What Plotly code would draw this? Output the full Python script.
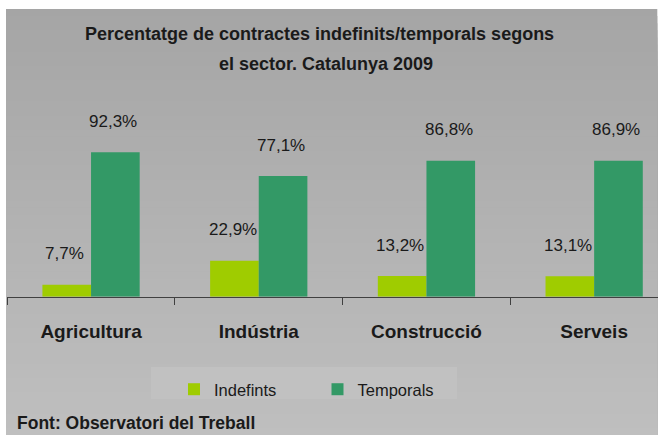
import plotly.graph_objects as go

W, H = 658, 435

categories = ["Agricultura", "Indústria", "Construcció", "Serveis"]
indefinits = [7.7, 22.9, 13.2, 13.1]
temporals = [92.3, 77.1, 86.8, 86.9]
series_names = ["Indefints", "Temporals"]
colors = ["#9fcc00", "#339966"]
title_lines = ["Percentatge de contractes indefinits/temporals segons", "el sector. Catalunya 2009"]
source_text = "Font: Observatori del Treball"

FONT = "Liberation Sans Narrow, Arial Narrow, Liberation Sans, Arial, sans-serif"


def px_x(x):
    return x / W


def px_y(y):
    return 1 - y / H


def fmt(v):
    return f"{v:.1f}".replace(".", ",") + "%"


fig = go.Figure()
for name, vals, col in zip(series_names, [indefinits, temporals], colors):
    fig.add_trace(go.Bar(x=categories, y=vals, name=name, marker=dict(color=col, line=dict(width=0)),
                         hoverinfo="skip"))

# data labels
annotations = []
bar_half = 0.1446
for vals, off in [(indefinits, -bar_half), (temporals, bar_half)]:
    for i, v in enumerate(vals):
        annotations.append(dict(x=i + off, y=v, xref="x", yref="y", text=fmt(v), showarrow=False,
                                xanchor="center", yanchor="middle", yshift=31, xshift=-2,
                                font=dict(family=FONT, size=17, color="#1a1a1a")))

# title
annotations.append(dict(x=px_x(319.5), y=px_y(34), xref="paper", yref="paper", text=title_lines[0],
                        showarrow=False, xanchor="center", yanchor="middle",
                        font=dict(family=FONT, size=18, color="#1a1a1a", weight="bold")))
annotations.append(dict(x=px_x(326), y=px_y(64.5), xref="paper", yref="paper", text=title_lines[1],
                        showarrow=False, xanchor="center", yanchor="middle",
                        font=dict(family=FONT, size=18, color="#1a1a1a", weight="bold")))
# source
annotations.append(dict(x=px_x(15), y=px_y(423), xref="paper", yref="paper", text=source_text,
                        showarrow=False, xanchor="left", yanchor="middle",
                        font=dict(family=FONT, size=17.5, color="#1a1a1a", weight="bold")))

# gradient background via stacked bands (each band runs to the bottom, no seams)
shapes = []
top_y, bot_y = 9, 435
n = 60
c0, c1 = 165, 191
for k in range(n):
    y0 = top_y + (bot_y - top_y) * k / n
    c = round(c0 + (c1 - c0) * (k + 0.5) / n)
    shapes.append(dict(type="rect", xref="paper", yref="paper", x0=px_x(6), x1=px_x(657.3),
                       y0=0, y1=px_y(y0), line=dict(width=0),
                       fillcolor=f"rgb({c},{c},{c})", layer="below"))
# legend box
shapes.append(dict(type="rect", xref="paper", yref="paper", x0=px_x(151), x1=px_x(457),
                   y0=px_y(399), y1=px_y(367), line=dict(width=0),
                   fillcolor="rgb(193,193,193)", layer="below"))

base_y = 296.7
ppu = 1.565
fig.update_layout(
    width=W, height=H,
    margin=dict(l=0, r=0, t=0, b=0),
    paper_bgcolor="white",
    plot_bgcolor="rgba(0,0,0,0)",
    barmode="group",
    bargap=0.42,
    bargroupgap=0,
    showlegend=True,
    legend=dict(orientation="h", x=px_x(174), y=px_y(389.5), xanchor="left", yanchor="middle",
                bgcolor="rgba(0,0,0,0)", font=dict(family=FONT, size=16.5, color="#1a1a1a"),
                entrywidth=98.5, entrywidthmode="pixels", itemclick=False, itemdoubleclick=False),
    xaxis=dict(domain=[px_x(7.2), 1.0], range=[-0.5, -0.5 + (W - 7.2) / 167.7],
               showline=True, linecolor="#404040", linewidth=1,
               ticks="outside", ticklen=7, tickcolor="#404040", tickwidth=1, tickson="boundaries",
               showgrid=False, zeroline=False, fixedrange=True, ticklabelstandoff=17,
               tickfont=dict(family=FONT, size=19, color="#1a1a1a", weight="bold")),
    yaxis=dict(domain=[px_y(base_y), px_y(base_y - 100 * ppu)], range=[0, 100], visible=False,
               fixedrange=True),
    annotations=annotations,
    shapes=shapes,
)

fig.write_html("out.html", config={"displayModeBar": False},
               post_script="document.body.style.margin='0';document.body.style.overflow='hidden';")
